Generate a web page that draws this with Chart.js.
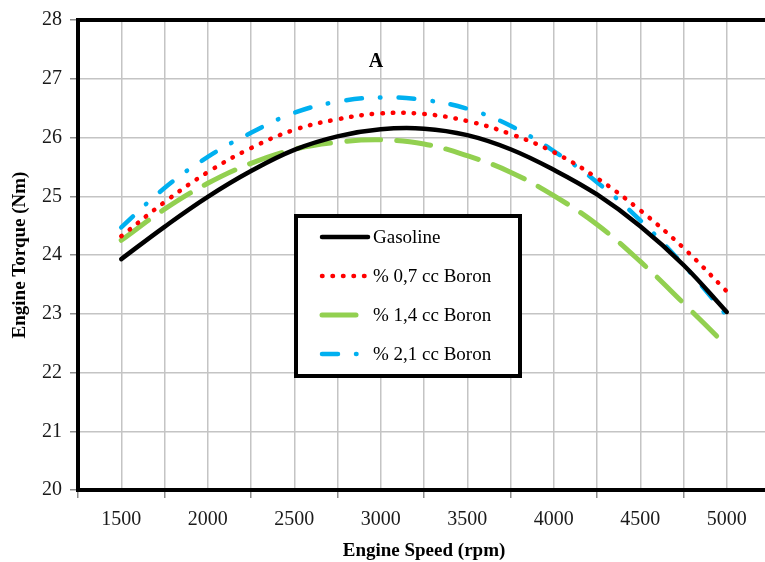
<!DOCTYPE html>
<html>
<head>
<meta charset="utf-8">
<script src="https://cdn.jsdelivr.net/npm/chart.js@4.4.1/dist/chart.umd.min.js"></script>
<style>
	html, body { margin: 0; padding: 0; background: #fff; overflow: hidden; }
	#wrap { width: 765px; height: 562px; overflow: hidden; }
</style>
</head>
<body>
<div id="wrap"><canvas id="torqueChart" width="780" height="562"></canvas></div>
<script>
const rpm = [1500, 1750, 2000, 2250, 2500, 2750, 3000, 3250, 3500, 3750, 4000, 4250, 4500, 4750, 5000];
const gasoline = [23.93, 24.48, 24.99, 25.43, 25.79, 26.02, 26.14, 26.15, 26.04, 25.80, 25.45, 25.03, 24.49, 23.83, 23.03];
const boron07 = [24.32, 24.90, 25.41, 25.82, 26.13, 26.31, 26.41, 26.40, 26.28, 26.06, 25.75, 25.31, 24.76, 24.12, 23.38];
const boron14 = [24.25, 24.78, 25.22, 25.56, 25.80, 25.92, 25.96, 25.89, 25.69, 25.41, 25.01, 24.52, 23.89, 23.18, 22.45];
const boron21 = [24.47, 25.14, 25.67, 26.08, 26.42, 26.61, 26.68, 26.64, 26.49, 26.20, 25.77, 25.24, 24.59, 23.83, 22.97];
const seriesLabels = ['Gasoline', '% 0,7 cc Boron', '% 1,4 cc Boron', '% 2,1 cc Boron'];
const xLabelTicks = [1500, 2000, 2500, 3000, 3500, 4000, 4500, 5000];
const chartLetter = 'A';

const serifFont = '"Liberation Serif", "Times New Roman", serif';

function punti(valori) {
	return rpm.map((r, i) => ({ x: r, y: valori[i] }));
}

const stili = [
	{ color: '#000000', width: 4.5, dash: [], cap: 'round' },
	{ color: '#ff0000', width: 4.5, dash: [0.5, 10], cap: 'round' },
	{ color: '#92d050', width: 5, dash: [34, 16], cap: 'round' },
	{ color: '#00b0f0', width: 4.5, dash: [16, 18, 0.5, 18], cap: 'round' }
];

const valori = [gasoline, boron07, boron14, boron21];

// legend box + frame + letter, drawn on top of the plot like in Excel
const cornice = {
	id: 'cornice',
	afterDatasetsDraw(chart) {
		const { ctx, chartArea: a } = chart;
		ctx.save();
		ctx.strokeStyle = '#000';
		ctx.lineWidth = 4;
		ctx.strokeRect(a.left, a.top, a.right - a.left, a.bottom - a.top);

		ctx.fillStyle = '#000';
		ctx.font = 'bold 20px ' + serifFont;
		ctx.textAlign = 'center';
		ctx.textBaseline = 'middle';
		ctx.fillText(chartLetter, 376, 62);

		ctx.fillStyle = '#fff';
		ctx.fillRect(296, 216, 224, 160);
		ctx.lineWidth = 4;
		ctx.strokeRect(296, 216, 224, 160);

		const righe = [237, 276, 315, 354];
		chart.data.datasets.forEach((ds, i) => {
			const y = righe[i];
			ctx.beginPath();
			ctx.strokeStyle = ds.borderColor;
			ctx.lineWidth = ds.borderWidth;
			ctx.lineCap = ds.borderCapStyle;
			ctx.setLineDash(ds.borderDash);
			ctx.moveTo(322, y);
			ctx.lineTo(i === 2 ? 358 : 368, y);
			ctx.stroke();
			ctx.setLineDash([]);
			ctx.fillStyle = '#000';
			ctx.font = '19px ' + serifFont;
			ctx.textAlign = 'left';
			ctx.textBaseline = 'middle';
			ctx.fillText(ds.label, 373, y + 1);
		});
		ctx.restore();
	}
};

const ctx = document.getElementById('torqueChart').getContext('2d');
new Chart(ctx, {
	type: 'line',
	data: {
		datasets: valori.map((v, i) => ({
			label: seriesLabels[i],
			data: punti(v),
			borderColor: stili[i].color,
			backgroundColor: stili[i].color,
			borderWidth: stili[i].width,
			borderDash: stili[i].dash,
			borderCapStyle: stili[i].cap,
			pointRadius: 0,
			tension: 0.4,
			fill: false
		}))
	},
	options: {
		responsive: false,
		animation: false,
		layout: { padding: { left: 0, top: 18, right: 6, bottom: 0 } },
		plugins: {
			legend: { display: false },
			tooltip: { enabled: false }
		},
		scales: {
			x: {
				type: 'linear',
				min: 1250,
				max: 5250,
				afterFit: (scale) => { scale.height = 72; },
				ticks: {
					stepSize: 250,
					autoSkip: false,
					maxRotation: 0,
					padding: 10,
					color: '#1a1a1a',
					font: { family: serifFont, size: 20 },
					callback: (v) => (xLabelTicks.includes(v) ? String(v) : '')
				},
				grid: {
					color: '#c4c4c4',
					lineWidth: 1.5,
					tickLength: 8,
					tickColor: (c) => (c.tick && c.tick.value % 500 === 250 ? '#8c8c8c' : 'rgba(0,0,0,0)')
				},
				border: { display: false },
				title: {
					display: true,
					text: 'Engine Speed (rpm)',
					color: '#000',
					font: { family: serifFont, size: 19, weight: 'bold' },
					padding: { top: 0, bottom: 0 }
				}
			},
			y: {
				min: 20,
				max: 28,
				afterFit: (scale) => { scale.width = 78; },
				ticks: {
					stepSize: 1,
					padding: 8,
					color: '#1a1a1a',
					font: { family: serifFont, size: 20 }
				},
				grid: {
					color: '#c4c4c4',
					lineWidth: 1.5,
					tickLength: 8,
					tickColor: '#8c8c8c'
				},
				border: { display: false },
				title: {
					display: true,
					text: 'Engine Torque (Nm)',
					color: '#000',
					font: { family: serifFont, size: 19, weight: 'bold' },
					padding: { top: 9, bottom: 0 }
				}
			}
		}
	},
	plugins: [cornice]
});
</script>
</body>
</html>
